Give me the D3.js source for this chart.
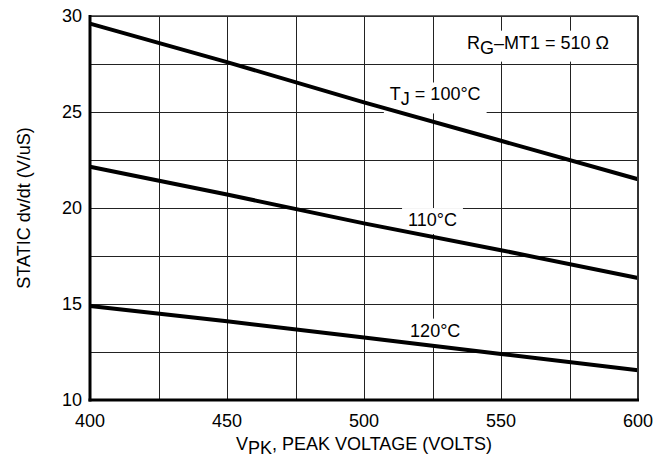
<!DOCTYPE html>
<html>
<head>
<meta charset="utf-8">
<script src="https://cdn.jsdelivr.net/npm/d3@7/dist/d3.min.js"></script>
<style>
body { margin: 0; background: #fff; }
text { font-family: "Liberation Sans", Arial, sans-serif; fill: #000; }
</style>
</head>
<body>
<div id="chart"></div>
<script>
// data
var voltages = [400, 450, 500, 550, 600];
var tj100 = [29.6, 27.6, 25.5, 23.5, 21.5];
var tj110 = [22.15, 20.7, 19.2, 17.8, 16.35];
var tj120 = [14.9, 14.1, 13.25, 12.4, 11.55];
var series = [tj100, tj110, tj120];

var xTicks = [400, 450, 500, 550, 600];
var yTicks = [10, 15, 20, 25, 30];
var xGrid = d3.range(400, 601, 25);
var yGrid = d3.range(10, 30.1, 2.5);

// curve labels: [main, subscript, rest, voltage, value]
var labels = [
	["R", "G", "\u2013MT1 = 510 \u03A9", 563.5, 28.3],
	["T", "J", " = 100\u00B0C", 526, 25.6],
	["110\u00B0C", "", "", 525, 19.06],
	["120\u00B0C", "", "", 526, 13.3]
];

var width = 668, height = 469;

var xScale = d3.scaleLinear()
				.domain([400, 600])
				.range([90, 638]);

var yScale = d3.scaleLinear()
				.domain([10, 30])
				.range([400, 16]);

var svg = d3.select("#chart").append("svg")
			.attr("width", width)
			.attr("height", height);

// grid
svg.append("g").selectAll("line")
	.data(xGrid)
	.enter().append("line")
		.attr("x1", function(d) { return Math.round(xScale(d)) + 0.5; })
		.attr("x2", function(d) { return Math.round(xScale(d)) + 0.5; })
		.attr("y1", yScale(30))
		.attr("y2", yScale(10))
		.style("stroke", "#222")
		.style("stroke-width", 1);

svg.append("g").selectAll("line")
	.data(yGrid)
	.enter().append("line")
		.attr("x1", xScale(400))
		.attr("x2", xScale(600))
		.attr("y1", function(d) { return Math.round(yScale(d)) + 0.5; })
		.attr("y2", function(d) { return Math.round(yScale(d)) + 0.5; })
		.style("stroke", "#222")
		.style("stroke-width", 1);

// label boxes (white, hide grid) then text
var boxLayer = svg.append("g");
var lineLayer = svg.append("g");
var textLayer = svg.append("g");

labels.forEach(function(l) {
	var t = textLayer.append("text")
		.attr("x", xScale(l[3]))
		.attr("y", yScale(l[4]))
		.attr("text-anchor", "middle")
		.style("font-size", "18px");
	t.append("tspan").text(l[0]);
	if (l[1]) {
		t.append("tspan").attr("dy", 5).text(l[1]);
		t.append("tspan").attr("dy", -5).text(l[2]);
	}
	var b = t.node().getBBox();
	boxLayer.append("rect")
		.attr("x", b.x - 6)
		.attr("y", b.y - 2)
		.attr("width", b.width + 12)
		.attr("height", b.height + 6)
		.style("fill", "#fff");
});

// curves
var line = d3.line()
	.x(function(d, i) { return xScale(voltages[i]); })
	.y(function(d) { return yScale(d); });

lineLayer.selectAll("path")
	.data(series)
	.enter().append("path")
		.attr("d", line)
		.style("fill", "none")
		.style("stroke", "#000")
		.style("stroke-width", 4);

// frame
svg.append("line")
	.attr("x1", xScale(400)).attr("x2", xScale(600))
	.attr("y1", yScale(30)).attr("y2", yScale(30))
	.style("stroke", "#333").style("stroke-width", 1.5);
svg.append("line")
	.attr("x1", xScale(600)).attr("x2", xScale(600))
	.attr("y1", yScale(30)).attr("y2", yScale(10))
	.style("stroke", "#333").style("stroke-width", 2);
svg.append("line")
	.attr("x1", xScale(400)).attr("x2", xScale(400))
	.attr("y1", yScale(30) - 1).attr("y2", yScale(10) + 1.5)
	.style("stroke", "#000").style("stroke-width", 3);
svg.append("line")
	.attr("x1", xScale(400) - 1.5).attr("x2", xScale(600) + 1)
	.attr("y1", yScale(10)).attr("y2", yScale(10))
	.style("stroke", "#000").style("stroke-width", 3);

// tick labels
svg.append("g").selectAll("text")
	.data(yTicks)
	.enter().append("text")
		.attr("x", 82)
		.attr("y", function(d) { return yScale(d); })
		.attr("dy", "0.36em")
		.attr("text-anchor", "end")
		.style("font-size", "18px")
		.text(function(d) { return d; });

svg.append("g").selectAll("text")
	.data(xTicks)
	.enter().append("text")
		.attr("x", function(d) { return xScale(d); })
		.attr("y", 427)
		.attr("text-anchor", "middle")
		.style("font-size", "18px")
		.text(function(d) { return d; });

// axis titles
var xt = svg.append("text")
	.attr("x", 364)
	.attr("y", 450)
	.attr("text-anchor", "middle")
	.style("font-size", "18px");
xt.append("tspan").text("V");
xt.append("tspan").attr("dy", 4).text("PK");
xt.append("tspan").attr("dy", -4).text(", PEAK VOLTAGE (VOLTS)");

svg.append("text")
	.attr("transform", "translate(30,208) rotate(-90)")
	.attr("text-anchor", "middle")
	.style("font-size", "18px")
	.text("STATIC dv/dt (V/uS)");
</script>
</body>
</html>
